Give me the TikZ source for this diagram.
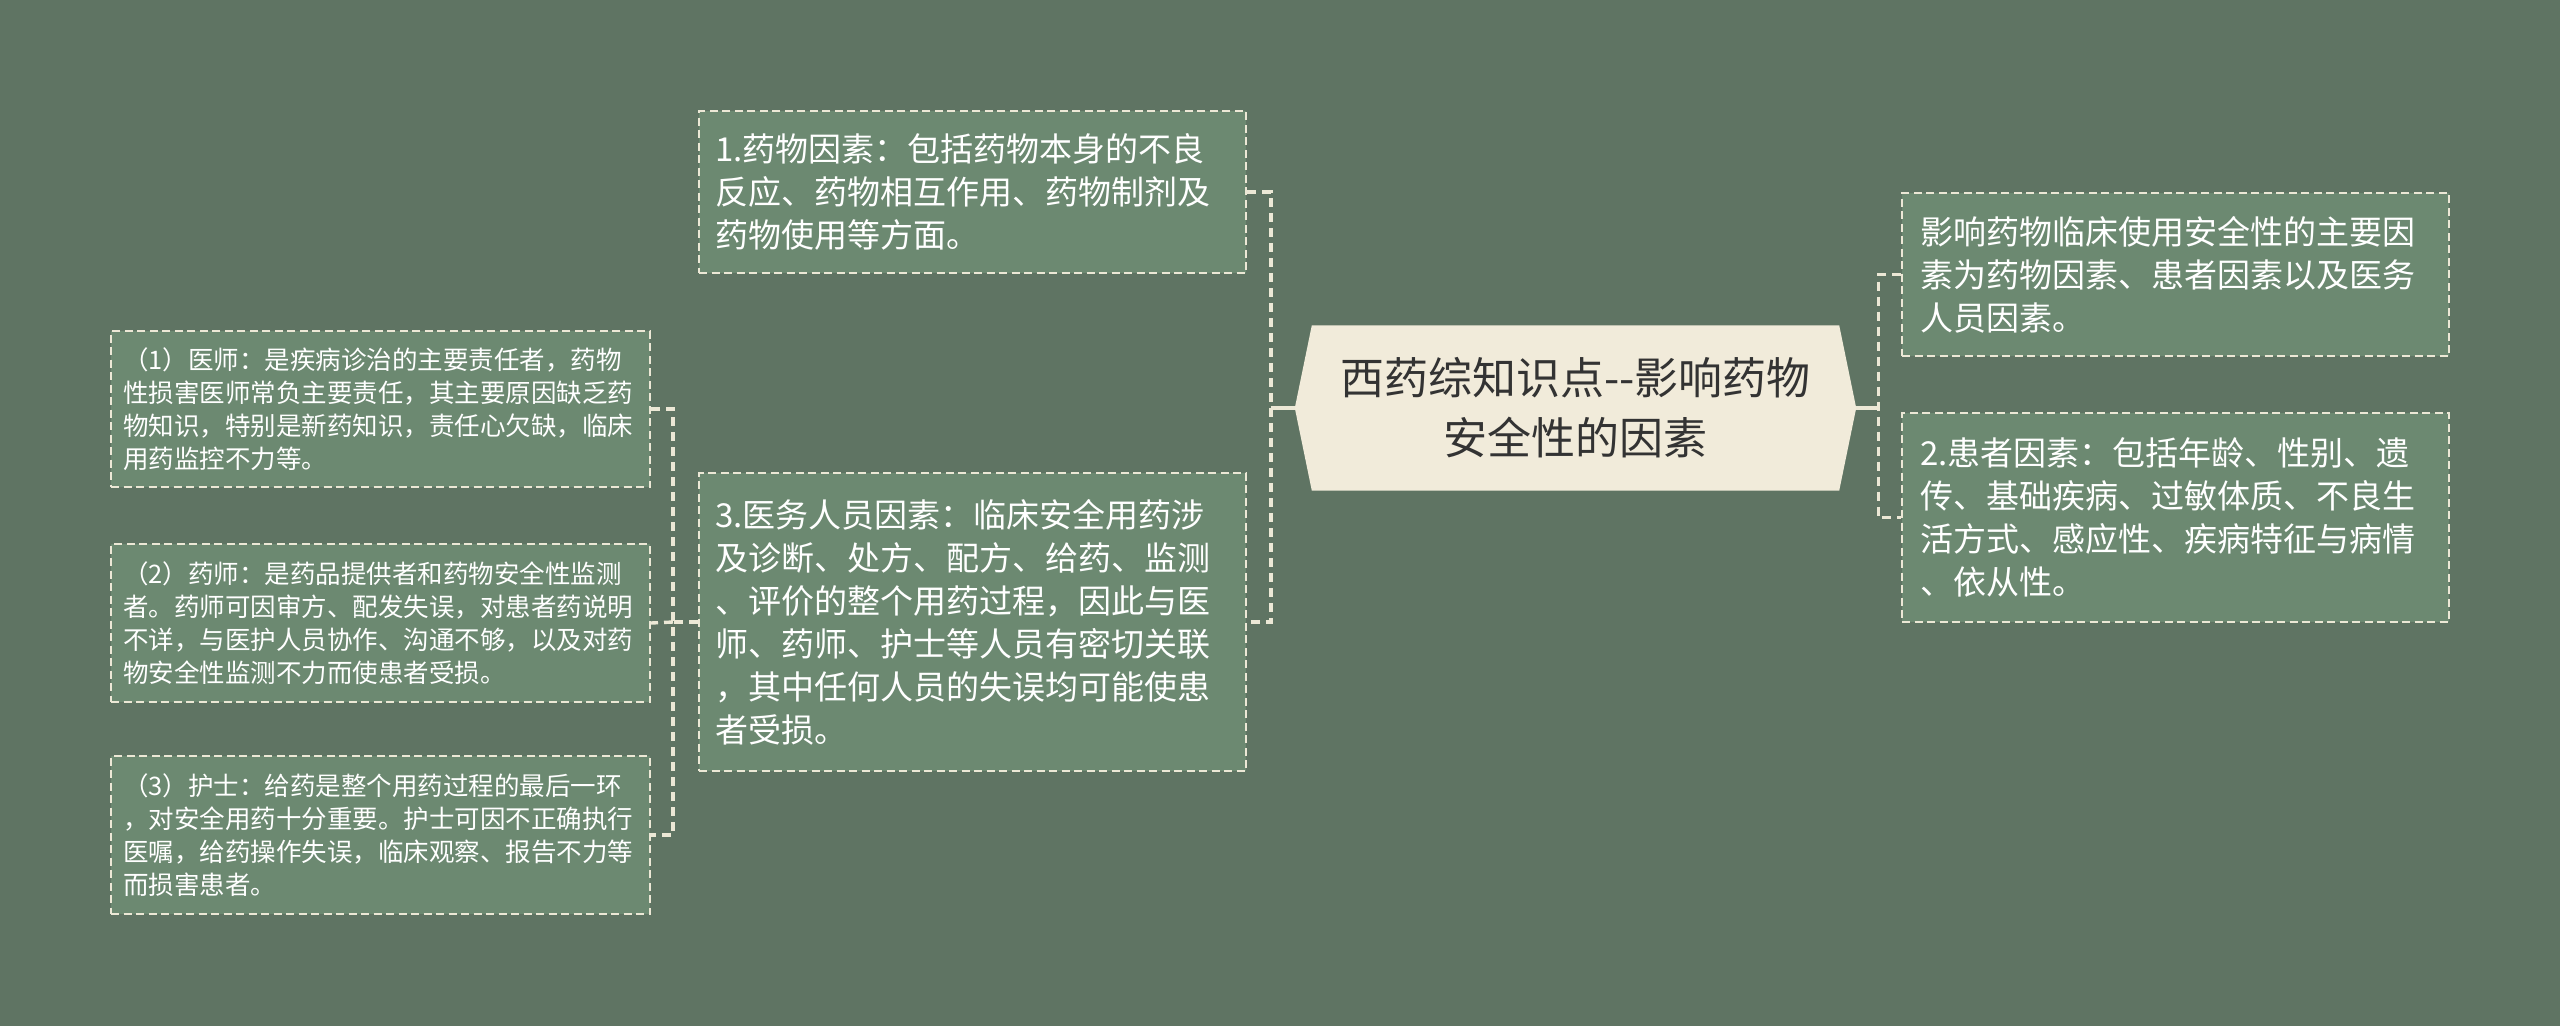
\documentclass[tikz,border=0pt]{standalone}
\usepackage{fontspec}
\newfontfamily\cjk{Noto Sans CJK SC}
\usepackage{xcolor}
\usetikzlibrary{backgrounds}
\definecolor{bgcol}{RGB}{95,116,99}
\definecolor{boxcol}{RGB}{108,137,113}
\definecolor{rootcol}{RGB}{241,235,218}
\definecolor{linecol}{RGB}{236,232,214}
\definecolor{roottext}{RGB}{51,51,51}
\tikzset{
	rootbox/.style={text=roottext, align=center, minimum width=561pt, minimum height=165pt, font=\cjk\fontsize{44}{60}\selectfont},
	itembox/.style={draw=linecol, fill=boxcol, line width=2pt, dash pattern=on 8pt off 4.5pt, text=white, align=left, inner xsep=16pt, text width=515pt, font=\cjk\fontsize{33}{43}\selectfont},
	sidebox/.style={itembox, inner xsep=18pt, text width=511pt},
	smallbox/.style={itembox, inner xsep=12pt, text width=515pt, font=\cjk\fontsize{25.5}{33.2}\selectfont},
	stub/.style={draw=linecol, line width=3.4pt},
	branch/.style={draw=linecol, line width=3.4pt, dash pattern=on 9pt off 6pt},
}
\begin{document}
\begin{tikzpicture}[x=1pt, y=-1pt]
	\begin{scope}[on background layer]
		\fill[bgcol] (0,0) rectangle (2560,1026);
	\end{scope}
	\useasboundingbox (0,0) rectangle (2560,1026);
	\node[rootbox] (root) at (1575.5,408) {西药综知识点\mbox{-}\mbox{-}影响药物\\安全性的因素};
	\begin{scope}[on background layer]
		\fill[rootcol] (root.west) -- ([xshift=17pt]root.north west) -- ([xshift=-17pt]root.north east) -- (root.east) -- ([xshift=-17pt]root.south east) -- ([xshift=17pt]root.south west) -- cycle;
	\end{scope}
	\node[itembox, minimum height=162pt] (drug) at (972.5,192) {1.药物因素：包括药物本身的不良\\反应、药物相互作用、药物制剂及\\药物使用等方面。};
	\node[itembox, minimum height=298pt] (staff) at (972.5,622) {3.医务人员因素：临床安全用药涉\\及诊断、处方、配方、给药、监测\\、评价的整个用药过程，因此与医\\师、药师、护士等人员有密切关联\\，其中任何人员的失误均可能使患\\者受损。};
	\node[smallbox, minimum height=156pt] (doctor) at (380.5,409) {（1）医师：是疾病诊治的主要责任者，药物\\性损害医师常负主要责任，其主要原因缺乏药\\物知识，特别是新药知识，责任心欠缺，临床\\用药监控不力等。};
	\node[smallbox, minimum height=158pt] (pharm) at (380.5,623) {（2）药师：是药品提供者和药物安全性监测\\者。药师可因审方、配发失误，对患者药说明\\不详，与医护人员协作、沟通不够，以及对药\\物安全性监测不力而使患者受损。};
	\node[smallbox, minimum height=158pt] (nurse) at (380.5,835) {（3）护士：给药是整个用药过程的最后一环\\，对安全用药十分重要。护士可因不正确执行\\医嘱，给药操作失误，临床观察、报告不力等\\而损害患者。};
	\node[sidebox, minimum height=163pt] (summary) at (2175.5,274.5) {影响药物临床使用安全性的主要因\\素为药物因素、患者因素以及医务\\人员因素。};
	\node[sidebox, minimum height=209pt] (patient) at (2175.5,517.5) {2.患者因素：包括年龄、性别、遗\\传、基础疾病、过敏体质、不良生\\活方式、感应性、疾病特征与病情\\、依从性。};
	\draw[stub] (root.west) -- ++(-24,0) coordinate (jl);
	\draw[branch] (drug.east) -| (jl) |- (staff.east);
	\draw[branch] (staff.west) -- ++(-25,0) coordinate (jd);
	\draw[branch] (doctor.east) -| (jd) |- (nurse.east);
	\draw[branch] (jd) -- (pharm.east);
	\draw[stub] (root.east) -- ++(22,0) coordinate (jr);
	\draw[branch] (summary.west) -| (jr) |- (patient.west);
\end{tikzpicture}
\end{document}
